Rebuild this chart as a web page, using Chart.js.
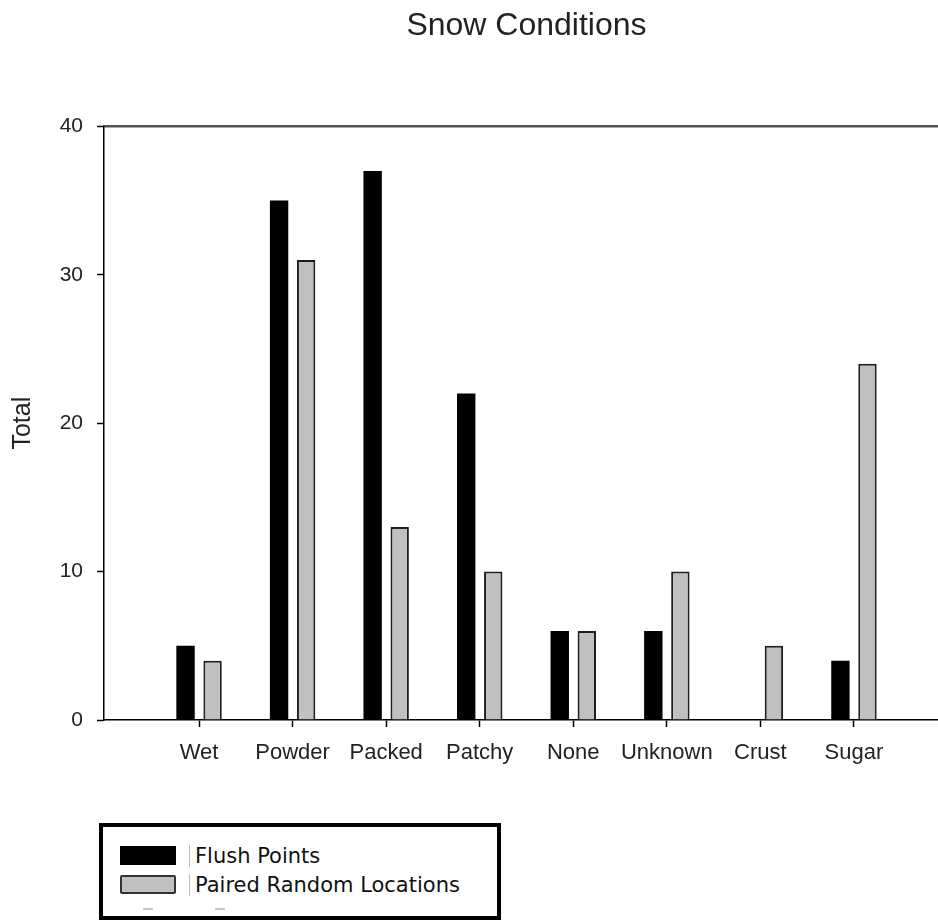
<!DOCTYPE html>
<html>
<head>
<meta charset="utf-8">
<script src="https://cdn.jsdelivr.net/npm/chart.js@4"></script>
<style>
  html, body { margin: 0; padding: 0; background: #fff; overflow: hidden; width: 938px; height: 920px; }
  #wrap { position: absolute; left: 0; top: 0; width: 949px; height: 780px; }
  #legend { position: absolute; left: 99px; top: 823px; width: 402px; height: 97px; box-sizing: border-box;
            border: 4px solid #000; background: #fff; font-family: "DejaVu Sans", sans-serif; font-size: 21px; color: #111; }
  .row { position: absolute; left: 17px; height: 29px; display: flex; align-items: center; }
  .sw { width: 56px; height: 19px; box-sizing: border-box; margin-right: 13px; }
  .lab { border-left: 1px solid #bbb; padding-left: 5px; line-height: 22px; }
  .dash { position: absolute; height: 2px; width: 10px; background: #c8c8c8; top: 81px; }
</style>
</head>
<body>
<div id="wrap"><canvas id="c" width="949" height="780"></canvas></div>
<div id="legend"></div>
<script>
const categories = ["Wet", "Powder", "Packed", "Patchy", "None", "Unknown", "Crust", "Sugar"];
const flushPoints = [5, 35, 37, 22, 6, 6, 0, 4];
const pairedRandom = [4, 31, 13, 10, 6, 10, 5, 24];
const seriesNames = ["Flush Points", "Paired Random Locations"];
const yTicks = [0, 10, 20, 30, 40];

const fills = ["#000000", "#c0c0c0"];
const borders = ["#000000", "#1e1e1e"];
const font = "'Liberation Sans', Arial, sans-serif";

const datasets = [flushPoints, pairedRandom].map((arr, k) => ({
  label: seriesNames[k],
  data: arr.map((v, i) => ({ x: i, y: v })),
  backgroundColor: fills[k],
  borderColor: borders[k],
  borderWidth: k === 0 ? 0 : 2,
  barPercentage: 0.68,
  categoryPercentage: 0.578,
  xAxisID: 'x'
}));

const pad = 1.016;
new Chart(document.getElementById('c'), {
  type: 'bar',
  data: { datasets },
  options: {
    responsive: false,
    animation: false,
    layout: { padding: 0 },
    plugins: {
      legend: { display: false },
      tooltip: { enabled: false },
      title: {
        display: true, text: 'Snow Conditions', fullSize: false, color: '#222',
        font: { family: font, size: 32, weight: 'normal' },
        padding: { top: 7, bottom: 81 }
      }
    },
    scales: {
      x: {
        type: 'linear', position: 'bottom', offset: false,
        min: -pad, max: categories.length - 1 + pad,
        afterBuildTicks: s => { s.ticks = s.ticks.filter(t => Number.isInteger(t.value) && t.value >= 0 && t.value < categories.length); },
        afterFit: s => { s.height = 60; },
        ticks: { stepSize: 1, autoSkip: false, maxRotation: 0, minRotation: 0, padding: 13, color: '#222',
                 font: { family: font, size: 22 }, callback: v => categories[v] ?? '' },
        grid: { offset: false, drawOnChartArea: false, drawTicks: true, tickLength: 7, tickColor: '#000', tickWidth: 1.5 },
        border: { display: true, color: '#000', width: 1.5 }
      },
      xTop: {
        type: 'linear', position: 'top', min: 0, max: 1, offset: false,
        afterFit: s => { s.height = 0; },
        ticks: { display: false },
        grid: { offset: false, drawOnChartArea: false, drawTicks: false },
        border: { display: true, color: '#555', width: 2.5 }
      },
      y: {
        min: yTicks[0], max: yTicks[yTicks.length - 1],
        afterFit: s => { s.width = 104; },
        afterBuildTicks: s => { s.ticks = yTicks.map(v => ({ value: v })); },
        ticks: { padding: 14, color: '#222', font: { family: font, size: 21 } },
        grid: { drawOnChartArea: false, drawTicks: true, tickLength: 7, tickColor: '#000', tickWidth: 1.5 },
        border: { display: true, color: '#000', width: 1.5 },
        title: { display: true, text: 'Total', color: '#222', font: { family: font, size: 25 }, padding: { top: 8, bottom: 0 } }
      }
    }
  }
});

// HTML legend built from series names and colours
const lg = document.getElementById('legend');
seriesNames.forEach((name, k) => {
  const row = document.createElement('div');
  row.className = 'row';
  row.style.top = (14 + k * 29) + 'px';
  const sw = document.createElement('div');
  sw.className = 'sw';
  sw.style.background = fills[k];
  sw.style.border = k === 0 ? '0' : '2px solid #333';
  sw.style.borderRadius = k === 0 ? '0' : '2px';
  const lab = document.createElement('span');
  lab.className = 'lab';
  lab.textContent = name;
  row.appendChild(sw); row.appendChild(lab);
  lg.appendChild(row);
});
[40, 112].forEach(x => { const d = document.createElement('div'); d.className = 'dash'; d.style.left = x + 'px'; lg.appendChild(d); });
</script>
</body>
</html>
